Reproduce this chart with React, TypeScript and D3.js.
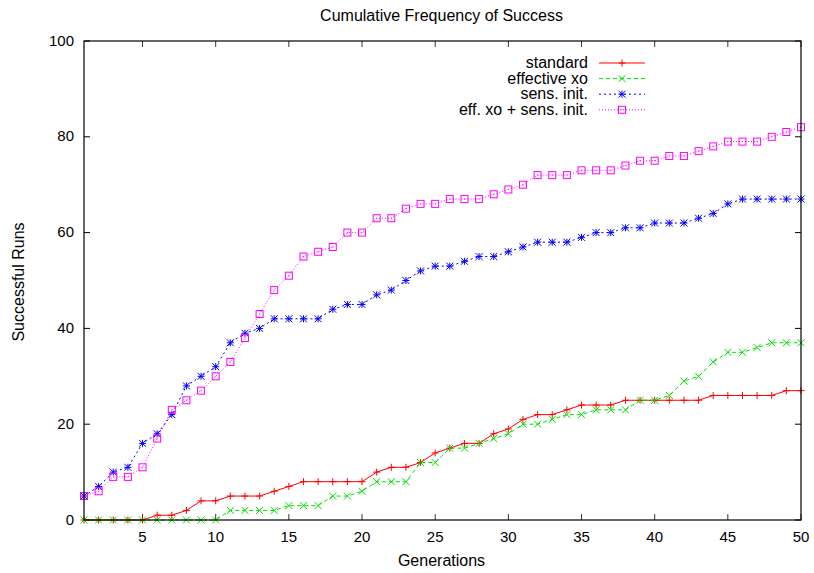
import React from "react";
import * as d3 from "d3";

const generations: number[] = Array.from({ length: 50 }, (_, i) => i + 1);

const standard = [0,0,0,0,0,1,1,2,4,4,5,5,5,6,7,8,8,8,8,8,10,11,11,12,14,15,16,16,18,19,21,22,22,23,24,24,24,25,25,25,25,25,25,26,26,26,26,26,27,27];
const effectiveXo = [0,0,0,0,0,0,0,0,0,0,2,2,2,2,3,3,3,5,5,6,8,8,8,12,12,15,15,16,17,18,20,20,21,22,22,23,23,23,25,25,26,29,30,33,35,35,36,37,37,37];
const sensInit = [5,7,10,11,16,18,22,28,30,32,37,39,40,42,42,42,42,44,45,45,47,48,50,52,53,53,54,55,55,56,57,58,58,58,59,60,60,61,61,62,62,62,63,64,66,67,67,67,67,67];
const effXoSensInit = [5,6,9,9,11,17,23,25,27,30,33,38,43,48,51,55,56,57,60,60,63,63,65,66,66,67,67,67,68,69,70,72,72,72,73,73,73,74,75,75,76,76,77,78,79,79,79,80,81,82];

const seriesNames = ["standard", "effective xo", "sens. init.", "eff. xo + sens. init."];
const seriesColors = ["#ff0000", "#00dd00", "#0000ff", "#ff00ff"];
const seriesDash = ["", "4,3", "2,3", "1,2"];
const seriesData = [standard, effectiveXo, sensInit, effXoSensInit];

const xTicks = [5, 10, 15, 20, 25, 30, 35, 40, 45, 50];
const yTicks = [0, 20, 40, 60, 80, 100];

const W = 814, H = 573;
const left = 84, right = 801, top = 41, bottom = 520;
const FONT = "'Liberation Sans', Arial, Helvetica, sans-serif";
const FS = 16;
const TFS = 15;

function Marker({ type, x, y, color }: { type: number; x: number; y: number; color: string }) {
  const s = 3.5;
  if (type === 0) {
    return <path d={`M${x - s},${y}H${x + s}M${x},${y - s}V${y + s}`} stroke={color} strokeWidth={1} fill="none" />;
  }
  if (type === 1) {
    return <path d={`M${x - s},${y - s}L${x + s},${y + s}M${x - s},${y + s}L${x + s},${y - s}`} stroke={color} strokeWidth={1} fill="none" />;
  }
  if (type === 2) {
    return <path d={`M${x - s},${y}H${x + s}M${x},${y - s}V${y + s}M${x - s},${y - s}L${x + s},${y + s}M${x - s},${y + s}L${x + s},${y - s}`} stroke={color} strokeWidth={1} fill="none" />;
  }
  return (
    <g>
      <rect x={x - s} y={y - s} width={2 * s} height={2 * s} stroke={color} strokeWidth={1} fill="none" />
      <rect x={x - 0.5} y={y - 0.5} width={1} height={1} fill={color} />
    </g>
  );
}

export default function App() {
  const x = d3.scaleLinear().domain([1, 50]).range([left, right]);
  const y = d3.scaleLinear().domain([0, 100]).range([bottom, top]);
  const line = d3.line<number>().x((_, i) => x(generations[i])).y((d) => y(d));
  const tickLen = 6;

  const legendTextX = 588;
  const legendLineX1 = 599;
  const legendLineX2 = 645;
  const legendY0 = 63;
  const legendDy = 15.6;

  return (
    <svg width={W} height={H} style={{ position: "absolute", left: 0, top: 0, background: "#fff" }} fontFamily={FONT}>
      <rect x={0} y={0} width={W} height={H} fill="#fff" />
      <text x={441.5} y={21} textAnchor="middle" fontSize={FS} fill="#000">Cumulative Frequency of Success</text>

      {yTicks.map((t) => (
        <g key={"y" + t}>
          <line x1={left} x2={left + tickLen} y1={y(t)} y2={y(t)} stroke="#000" />
          <line x1={right} x2={right - tickLen} y1={y(t)} y2={y(t)} stroke="#000" />
          <text x={left - 10} y={y(t) + 4.5} textAnchor="end" fontSize={TFS} fill="#000">{t}</text>
        </g>
      ))}
      {xTicks.map((t) => (
        <g key={"x" + t}>
          <line x1={x(t)} x2={x(t)} y1={bottom} y2={bottom - tickLen} stroke="#333" />
          <line x1={x(t)} x2={x(t)} y1={top} y2={top + tickLen} stroke="#333" />
          <text x={x(t)} y={bottom + 22} textAnchor="middle" fontSize={TFS} fill="#000">{t}</text>
        </g>
      ))}

      {seriesData.map((data, si) => (
        <g key={"s" + si}>
          <path d={line(data) || ""} fill="none" stroke={seriesColors[si]} strokeWidth={1} strokeDasharray={seriesDash[si]} />
          {data.map((v, i) => (
            <Marker key={i} type={si} x={x(generations[i])} y={y(v)} color={seriesColors[si]} />
          ))}
        </g>
      ))}

      <rect x={left} y={top} width={right - left} height={bottom - top} fill="none" stroke="#000" strokeWidth={1.2} />

      {seriesNames.map((name, si) => {
        const ly = legendY0 + si * legendDy;
        return (
          <g key={"l" + si}>
            <text x={legendTextX} y={ly + 5} textAnchor="end" fontSize={FS} fill="#000">{name}</text>
            <line x1={legendLineX1} x2={legendLineX2} y1={ly} y2={ly} stroke={seriesColors[si]} strokeWidth={1} strokeDasharray={seriesDash[si]} />
            <Marker type={si} x={(legendLineX1 + legendLineX2) / 2} y={ly} color={seriesColors[si]} />
          </g>
        );
      })}

      <text x={441.5} y={566} textAnchor="middle" fontSize={FS} fill="#000">Generations</text>
      <text transform={`translate(23.5, 282) rotate(-90)`} textAnchor="middle" fontSize={FS} fill="#000">Successful Runs</text>
    </svg>
  );
}
